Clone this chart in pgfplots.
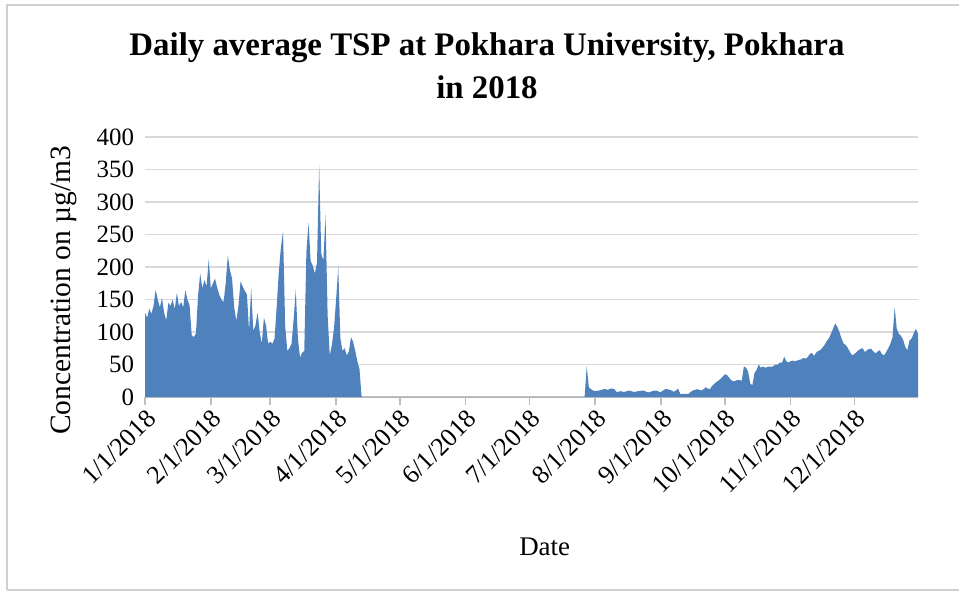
\documentclass[border=0pt]{standalone}
\usepackage{fontspec}
\setmainfont{Liberation Serif}
\usepackage{pgfplots}
\pgfplotsset{compat=1.18}
\definecolor{tspblue}{HTML}{4F81BD}
\definecolor{gridgray}{HTML}{D9D9D9}
\definecolor{axisgray}{HTML}{BFBFBF}
\definecolor{framegray}{HTML}{CFCFCF}

\begin{document}
\begin{tikzpicture}
\begin{axis}[
    at={(0,0)}, anchor=south west,
    scale only axis,
    width=386.5bp, height=130bp,
    xmin=0, xmax=364, ymin=0, ymax=400,
    enlargelimits=false,
    axis x line*=bottom, axis y line*=left,
    y axis line style={draw=none},
    x axis line style={axisgray, line width=0.8pt},
    ymajorgrids, grid style={gridgray, line width=0.8pt},
    ytick={0,50,...,400},
    ytick style={draw=none},
    xtick={0,31,59,90,120,151,181,212,243,273,304,334},
    xticklabels={1/1/2018,2/1/2018,3/1/2018,4/1/2018,5/1/2018,6/1/2018,
      7/1/2018,8/1/2018,9/1/2018,10/1/2018,11/1/2018,12/1/2018},
    xtick style={axisgray, line width=0.8pt},
    major tick length=4bp, tick align=outside,
    /pgf/number format/assume math mode=true,
    xticklabel style={rotate=45, anchor=north east, inner sep=1bp,
      font=\fontsize{13}{14}\selectfont},
    yticklabel style={font=\fontsize{12.5}{14}\selectfont, xshift=2bp},
    title={Daily average TSP at Pokhara University, Pokhara\\in 2018},
    title style={at={(0.4424,1.229)}, anchor=center, align=center,
      font=\fontsize{16.5}{21.5}\selectfont\bfseries},
    xlabel={Date},
    xlabel style={at={(0.517,-0.577)}, anchor=center, font=\fontsize{13.5}{14}\selectfont},
    ylabel={Concentration on µg/m3},
    ylabel style={at={(-0.105,0.41)}, anchor=center, font=\fontsize{14.8}{15}\selectfont},
  ]
  % daily TSP; no samples between mid April and late July
  \addplot[fill=tspblue, draw=none] coordinates {
    (0,130) (1,122) (2,136) (3,128) (4,140) (5,165) (6,150) (7,138) (8,152) (9,130)
    (10,118) (11,145) (12,140) (13,150) (14,135) (15,160) (16,140) (17,146) (18,138) (19,164)
    (20,150) (21,141) (22,95) (23,92) (24,98) (25,157) (26,190) (27,167) (28,180) (29,170)
    (30,212) (31,167) (32,175) (33,182) (34,168) (35,157) (36,150) (37,146) (38,175) (39,218)
    (40,195) (41,182) (42,138) (43,117) (44,140) (45,178) (46,170) (47,163) (48,158) (49,102)
    (50,168) (51,102) (52,110) (53,130) (54,100) (55,82) (56,122) (57,110) (58,82) (59,85)
    (60,82) (61,90) (62,138) (63,192) (64,230) (65,255) (66,110) (67,71) (68,75) (69,82)
    (70,120) (71,165) (72,90) (73,61) (74,68) (75,71) (76,224) (77,268) (78,209) (79,202)
    (80,190) (81,207) (82,357) (83,220) (84,210) (85,280) (86,126) (87,64) (88,80) (89,106)
    (90,150) (91,200) (92,90) (93,71) (94,75) (95,64) (96,70) (97,92) (98,85) (99,71)
    (100,55) (101,43) (102,0)
    (207,0)
    (208,47) (209,15) (210,12) (211,10) (212,9) (213,10) (214,10) (215,11) (216,12) (217,12)
    (218,11) (219,13) (220,13) (221,12) (222,8) (223,8) (224,9) (225,8) (226,8) (227,9)
    (228,10) (229,9) (230,8) (231,8) (232,9) (233,9) (234,10) (235,10) (236,8) (237,7)
    (238,8) (239,9) (240,10) (241,10) (242,8) (243,8) (244,10) (245,12) (246,12) (247,11)
    (248,10) (249,8) (250,10) (251,13) (252,5) (253,5) (254,5) (255,5) (256,5) (257,8)
    (258,10) (259,11) (260,12) (261,11) (262,10) (263,12) (264,15) (265,13) (266,12) (267,17)
    (268,20) (269,23) (270,25) (271,28) (272,31) (273,35) (274,34) (275,30) (276,26) (277,24)
    (278,25) (279,26) (280,26) (281,25) (282,47) (283,45) (284,39) (285,21) (286,18) (287,37)
    (288,42) (289,50) (290,45) (291,47) (292,45) (293,46) (294,47) (295,46) (296,48) (297,50)
    (298,50) (299,53) (300,53) (301,62) (302,55) (303,53) (304,55) (305,56) (306,55) (307,56)
    (308,57) (309,58) (310,60) (311,59) (312,61) (313,66) (314,68) (315,63) (316,68) (317,71)
    (318,72) (319,76) (320,80) (321,86) (322,90) (323,97) (324,105) (325,113) (326,108) (327,100)
    (328,90) (329,82) (330,80) (331,75) (332,69) (333,64) (334,66) (335,69) (336,72) (337,74)
    (338,75) (339,69) (340,72) (341,74) (342,74) (343,70) (344,67) (345,70) (346,72) (347,66)
    (348,64) (349,69) (350,75) (351,82) (352,92) (353,138) (354,105) (355,97) (356,94) (357,88)
    (358,77) (359,72) (360,87) (361,90) (362,98) (363,105) (364,97)
  } \closedcycle;
\end{axis}
% chart area border
\draw[framegray, line width=1bp] (-69bp,-96.5bp) -- (-69bp,196bp) -- (410bp,196bp);
\draw[framegray, line width=1bp] (-69bp,-96.5bp) -- (410bp,-96.5bp);
\pgfresetboundingbox
\path (-72.5bp,-99bp) rectangle (407bp,198.5bp);
\end{tikzpicture}
\end{document}
